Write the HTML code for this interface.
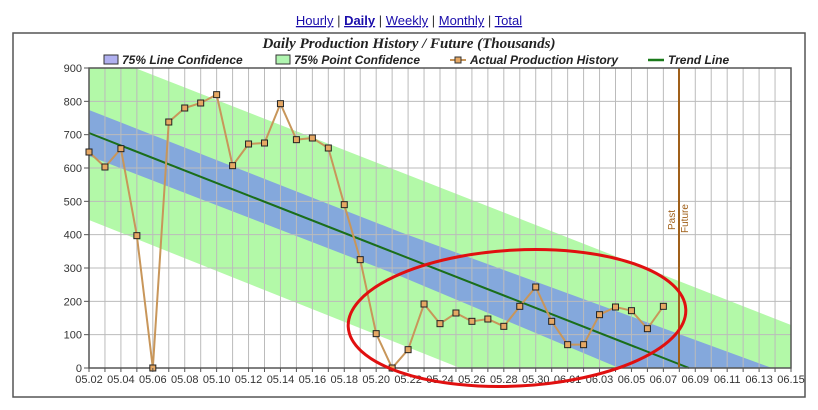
<!DOCTYPE html><html><head><style>html,body{margin:0;padding:0;background:#fff;width:818px;height:410px;overflow:hidden}svg{display:block}</style></head><body><svg width="818" height="410" xmlns="http://www.w3.org/2000/svg" font-family="Liberation Sans, sans-serif">
<text x="409" y="25" text-anchor="middle" font-size="13" fill="#1a0dab"><tspan text-decoration="underline">Hourly</tspan><tspan fill="#333"> | </tspan><tspan font-weight="bold" text-decoration="underline" fill="#1a0dab">Daily</tspan><tspan fill="#333"> | </tspan><tspan text-decoration="underline">Weekly</tspan><tspan fill="#333"> | </tspan><tspan text-decoration="underline">Monthly</tspan><tspan fill="#333"> | </tspan><tspan text-decoration="underline">Total</tspan></text>
<rect x="13" y="33" width="792" height="364" fill="#fff" stroke="#555" stroke-width="1.5"/>
<text x="409" y="48" text-anchor="middle" font-family="Liberation Serif, serif" font-style="italic" font-weight="bold" font-size="15" fill="#222">Daily Production History / Future (Thousands)</text>
<g font-size="12" font-style="italic" font-weight="bold" fill="#222">
<rect x="104" y="55" width="14" height="9" fill="#b0b0f0" stroke="#333"/><text x="122" y="64">75% Line Confidence</text>
<rect x="276" y="55" width="14" height="9" fill="#b0f5b0" stroke="#333"/><text x="294" y="64">75% Point Confidence</text>
<line x1="450" y1="60" x2="466" y2="60" stroke="#c8965a" stroke-width="2"/><rect x="455" y="57" width="6" height="6" fill="#e6a864" stroke="#333"/><text x="470" y="64">Actual Production History</text>
<line x1="648" y1="60" x2="664" y2="60" stroke="#1a7a1a" stroke-width="2.5"/><text x="668" y="64">Trend Line</text>
</g>
<polygon points="89,68 135,68 791,325 791,368 460,368 89,220" fill="#b3f9a8"/>
<polygon points="89,110 400,232 772,368 619,368 400,276 89,156" fill="#84a8dc"/>
<g stroke="#bbb" stroke-width="1" id="g"></g>
<line x1="89" y1="133" x2="689" y2="368" stroke="#1a6e1a" stroke-width="2"/>
<line x1="679" y1="68" x2="679" y2="368" stroke="#a0601a" stroke-width="2"/>
<text transform="translate(675,230) rotate(-90)" font-size="10" fill="#a0601a">Past</text>
<text transform="translate(688,233) rotate(-90)" font-size="10" fill="#a0601a">Future</text>
<rect x="89" y="68" width="702" height="300" fill="none" stroke="#555" stroke-width="1.5"/>
<polyline id="d" fill="none" stroke="#c8965a" stroke-width="2"/>
<g id="m"></g>
<g id="ax" font-size="11" fill="#333"></g>
<ellipse cx="517" cy="318" rx="169" ry="68" fill="none" stroke="#e01010" stroke-width="3" transform="rotate(-3 517 318)"/>
</svg><script>
var ns="http://www.w3.org/2000/svg",g=document.getElementById('g'),ax=document.getElementById('ax');
function el(p,t,a,tx){var e=document.createElementNS(ns,t);for(var k in a)e.setAttribute(k,a[k]);if(tx!=null)e.textContent=tx;p.appendChild(e);return e}
var dx=702/44;
for(var i=1;i<44;i++)el(g,'line',{x1:89+i*dx,y1:68,x2:89+i*dx,y2:368});
for(var v=100;v<900;v+=100)el(g,'line',{x1:89,y1:368-v/3,x2:791,y2:368-v/3});
for(var v=0;v<=900;v+=100){el(ax,'text',{x:82,y:372-v/3,'text-anchor':'end'},v);el(ax,'line',{x1:84,y1:368-v/3,x2:89,y2:368-v/3,stroke:'#555'})}
var labs=['05.02','05.04','05.06','05.08','05.10','05.12','05.14','05.16','05.18','05.20','05.22','05.24','05.26','05.28','05.30','06.01','06.03','06.05','06.07','06.09','06.11','06.13','06.15'];
for(var i=0;i<=44;i++){el(ax,'line',{x1:89+i*dx,y1:368,x2:89+i*dx,y2:372,stroke:'#555'});if(i%2==0)el(ax,'text',{x:89+i*dx,y:383,'text-anchor':'middle'},labs[i/2])}
var d=[648,603,658,397,0,738,780,795,820,607,672,675,793,685,690,660,490,325,103,0,55,192,133,165,140,147,125,185,243,140,70,70,160,183,172,118,185];
document.getElementById('d').setAttribute('points',d.map(function(v,i){return (89+i*dx)+','+(368-v/3)}).join(' '));
var m=document.getElementById('m');
d.forEach(function(v,i){el(m,'rect',{x:89+i*dx-3,y:368-v/3-3,width:6,height:6,fill:'#e6a864',stroke:'#222','stroke-width':1})});
</script></body></html>
